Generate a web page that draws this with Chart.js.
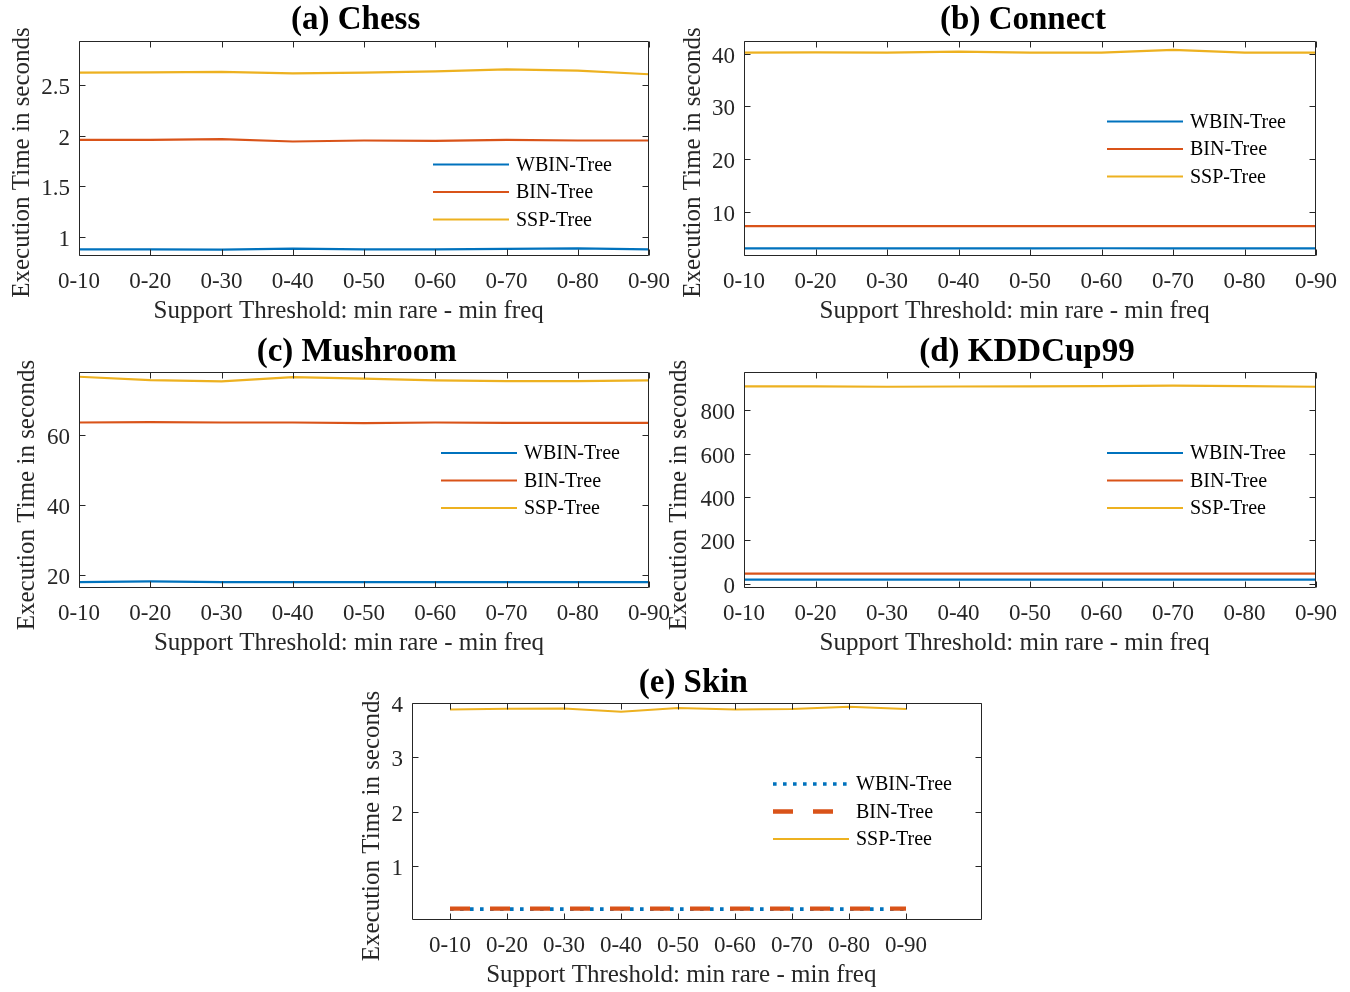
<!DOCTYPE html>
<html>
<head>
<meta charset="utf-8">
<script src="https://cdn.jsdelivr.net/npm/chart.js@4.4.1/dist/chart.umd.min.js"></script>
<style>
html,body{margin:0;padding:0;background:#ffffff;overflow:hidden;}
#wrap{position:relative;width:1350px;height:992px;background:#ffffff;}
#wrap canvas{position:absolute;left:0;top:0;}
</style>
</head>
<body>
<div id="wrap">
<canvas id="cA" width="1350" height="992"></canvas>
<canvas id="cB" width="1350" height="992"></canvas>
<canvas id="cC" width="1350" height="992"></canvas>
<canvas id="cD" width="1350" height="992"></canvas>
<canvas id="cE" width="1350" height="992"></canvas>
</div>
<script>
// ---------------- DATA ----------------
const categories = ['0-10','0-20','0-30','0-40','0-50','0-60','0-70','0-80','0-90'];
const seriesNames = ['WBIN-Tree','BIN-Tree','SSP-Tree'];

const chessWBIN = [0.878,0.878,0.875,0.885,0.878,0.878,0.882,0.888,0.878];
const chessBIN  = [1.960,1.960,1.967,1.944,1.954,1.951,1.960,1.954,1.954];
const chessSSP  = [2.625,2.628,2.632,2.618,2.625,2.638,2.658,2.645,2.609];

const connectWBIN = [3.05,3.05,3.05,3.05,3.03,3.07,3.05,3.05,3.05];
const connectBIN  = [7.28,7.28,7.28,7.28,7.26,7.28,7.28,7.28,7.28];
const connectSSP  = [40.19,40.25,40.19,40.38,40.19,40.19,40.70,40.19,40.19];

const mushroomWBIN = [17.9,18.1,17.9,17.9,17.9,17.9,17.9,17.9,17.9];
const mushroomBIN  = [63.7,63.8,63.7,63.7,63.5,63.7,63.6,63.6,63.6];
const mushroomSSP  = [76.84,75.89,75.50,76.75,76.27,75.79,75.60,75.60,75.79];

const kddWBIN = [18.5,18.5,18.5,18.5,18.5,18.5,18.5,18.5,18.5];
const kddBIN  = [46,46,46,46,46,46,46,46,46];
const kddSSP  = [911,911,909,910,911,912,914,912,909];

const skinWBIN = [0.20,0.20,0.20,0.20,0.20,0.20,0.20,0.20,0.20];
const skinBIN  = [0.21,0.21,0.21,0.21,0.21,0.21,0.21,0.21,0.21];
const skinSSP  = [3.88,3.895,3.90,3.84,3.91,3.88,3.89,3.93,3.89];

const chessYTicks    = [1,1.5,2,2.5];
const connectYTicks  = [10,20,30,40];
const mushroomYTicks = [20,40,60];
const kddYTicks      = [0,200,400,600,800];
const skinYTicks     = [1,2,3,4];

const xAxisTitle = 'Support Threshold: min rare - min freq';
const yAxisTitle = 'Execution Time in seconds';

// ---------------- STYLE / LAYOUT ----------------
const FONT = '"Liberation Serif","Times New Roman",Times,serif';
const AXC = '#262626';
const COLORS = ['#0072BD','#D95319','#EDB120'];

const solidStyles = [
  {w:2.2, dash:[]},{w:2.2, dash:[]},{w:2.2, dash:[]}
];
const skinStyles = [
  {w:3.6, dash:[3.6,6.4]},{w:4.3, dash:[20,20]},{w:2, dash:[]}
];

const panels = [
  {id:'cA', title:'(a) Chess', series:[chessWBIN,chessBIN,chessSSP], yTicks:chessYTicks,
   yMin:0.8125, yMax:2.9375, xMin:1, xMax:9, area:{l:79,t:41,r:649,b:256},
   titleAt:[355.6,29.3], xTitleAt:[348.7,318], yTitleAt:[29,162.5], legendAt:[433,164.5], styles:solidStyles},
  {id:'cB', title:'(b) Connect', series:[connectWBIN,connectBIN,connectSSP], yTicks:connectYTicks,
   yMin:1.6, yMax:42.4, xMin:1, xMax:9, area:{l:744,t:41,r:1316,b:256},
   titleAt:[1023,29.3], xTitleAt:[1014.6,318], yTitleAt:[700,162.5], legendAt:[1107,121.5], styles:solidStyles},
  {id:'cC', title:'(c) Mushroom', series:[mushroomWBIN,mushroomBIN,mushroomSSP], yTicks:mushroomYTicks,
   yMin:16.2, yMax:78.2, xMin:1, xMax:9, area:{l:79,t:372,r:649,b:588},
   titleAt:[356.7,361], xTitleAt:[349,650], yTitleAt:[34,495], legendAt:[441,453], styles:solidStyles},
  {id:'cD', title:'(d) KDDCup99', series:[kddWBIN,kddBIN,kddSSP], yTicks:kddYTicks,
   yMin:-20, yMax:977, xMin:1, xMax:9, area:{l:744,t:372,r:1316,b:588},
   titleAt:[1027,361], xTitleAt:[1014.6,650], yTitleAt:[686,495], legendAt:[1107,453], styles:solidStyles},
  {id:'cE', title:'(e) Skin', series:[skinWBIN,skinBIN,skinSSP], yTicks:skinYTicks,
   yMin:0, yMax:4, xMin:1/3, xMax:31/3, area:{l:412,t:703,r:982,b:920},
   titleAt:[693.3,691.7], xTitleAt:[681.3,981.5], yTitleAt:[379,826], legendAt:[773,784], styles:skinStyles}
];

const matlabPlugin = {
  id: 'matlabDecor',
  afterDatasetsDraw(chart, args, o) {
    const {ctx, chartArea: a} = chart;
    const xs = chart.scales.x, ys = chart.scales.y;
    ctx.save();
    // frame
    ctx.strokeStyle = AXC;
    ctx.lineWidth = 1;
    const L = Math.round(a.left) + 0.5, R = Math.round(a.right) - 0.5;
    const T = Math.round(a.top) + 0.5, B = Math.round(a.bottom) - 0.5;
    ctx.beginPath();
    ctx.rect(L, T, R - L, B - T);
    ctx.stroke();
    // inward ticks
    const TL = 6;
    ctx.beginPath();
    xs.ticks.forEach(t => {
      const px = Math.round(xs.getPixelForValue(t.value)) + 0.5;
      ctx.moveTo(px, B); ctx.lineTo(px, B - TL);
      ctx.moveTo(px, T); ctx.lineTo(px, T + TL);
    });
    ys.ticks.forEach(t => {
      const py = Math.round(ys.getPixelForValue(t.value)) + 0.5;
      ctx.moveTo(L, py); ctx.lineTo(L + TL, py);
      ctx.moveTo(R, py); ctx.lineTo(R - TL, py);
    });
    ctx.stroke();

    // title
    ctx.fillStyle = '#000000';
    ctx.font = 'bold 33px ' + FONT;
    ctx.textAlign = 'center';
    ctx.textBaseline = 'alphabetic';
    ctx.fillText(o.title, o.titleAt[0], o.titleAt[1]);

    // x axis title
    ctx.fillStyle = AXC;
    ctx.font = '25px ' + FONT;
    ctx.fillText(xAxisTitle, o.xTitleAt[0], o.xTitleAt[1]);

    // y axis title
    ctx.save();
    ctx.translate(o.yTitleAt[0], o.yTitleAt[1]);
    ctx.rotate(-Math.PI / 2);
    ctx.fillText(yAxisTitle, 0, 0);
    ctx.restore();

    // legend
    ctx.font = '20px ' + FONT;
    ctx.textAlign = 'left';
    ctx.textBaseline = 'middle';
    chart.data.datasets.forEach((ds, i) => {
      const y = o.legendAt[1] + i * 27.5;
      const x0 = o.legendAt[0];
      ctx.save();
      ctx.strokeStyle = ds.borderColor;
      ctx.lineWidth = ds.borderWidth;
      ctx.setLineDash(ds.borderDash || []);
      ctx.lineDashOffset = 0;
      ctx.lineCap = 'butt';
      ctx.beginPath();
      ctx.moveTo(x0, y); ctx.lineTo(x0 + 76, y);
      ctx.stroke();
      ctx.restore();
      ctx.fillStyle = '#000000';
      ctx.fillText(ds.label, x0 + 83, y + 1);
    });
    ctx.restore();
  }
};

panels.forEach(p => {
  const datasets = p.series.map((vals, si) => ({
    label: seriesNames[si],
    data: vals.map((v, i) => ({x: i + 1, y: v})),
    borderColor: COLORS[si],
    backgroundColor: COLORS[si],
    borderWidth: p.styles[si].w,
    borderDash: p.styles[si].dash,
    borderCapStyle: 'butt',
    pointRadius: 0,
    pointHoverRadius: 0,
    tension: 0,
    fill: false,
    order: 3 - si
  }));
  new Chart(document.getElementById(p.id), {
    type: 'line',
    data: {datasets},
    plugins: [matlabPlugin],
    options: {
      responsive: false,
      animation: false,
      devicePixelRatio: 1,
      events: [],
      layout: {padding: {left: 0, top: p.area.t, right: 1350 - p.area.r, bottom: 0}},
      plugins: {
        legend: {display: false},
        tooltip: {enabled: false},
        title: {display: false},
        matlabDecor: {title: p.title, titleAt: p.titleAt, xTitleAt: p.xTitleAt, yTitleAt: p.yTitleAt, legendAt: p.legendAt}
      },
      scales: {
        x: {
          type: 'linear',
          min: p.xMin, max: p.xMax,
          afterFit(s) { s.height = 992 - p.area.b; },
          afterBuildTicks(s) { s.ticks = categories.map((c, i) => ({value: i + 1})); },
          ticks: {
            callback: (v) => categories[Math.round(v) - 1],
            font: {family: FONT, size: 23},
            color: AXC,
            padding: 12,
            autoSkip: false,
            maxRotation: 0,
            minRotation: 0
          },
          grid: {display: false, drawTicks: false},
          border: {display: false}
        },
        y: {
          type: 'linear',
          min: p.yMin, max: p.yMax,
          afterFit(s) { s.width = p.area.l; },
          afterBuildTicks(s) { s.ticks = p.yTicks.map(v => ({value: v})); },
          ticks: {
            callback: (v) => String(v),
            font: {family: FONT, size: 23},
            color: AXC,
            padding: 9,
            labelOffset: 3
          },
          grid: {display: false, drawTicks: false},
          border: {display: false}
        }
      }
    }
  });
});
</script>
</body>
</html>
